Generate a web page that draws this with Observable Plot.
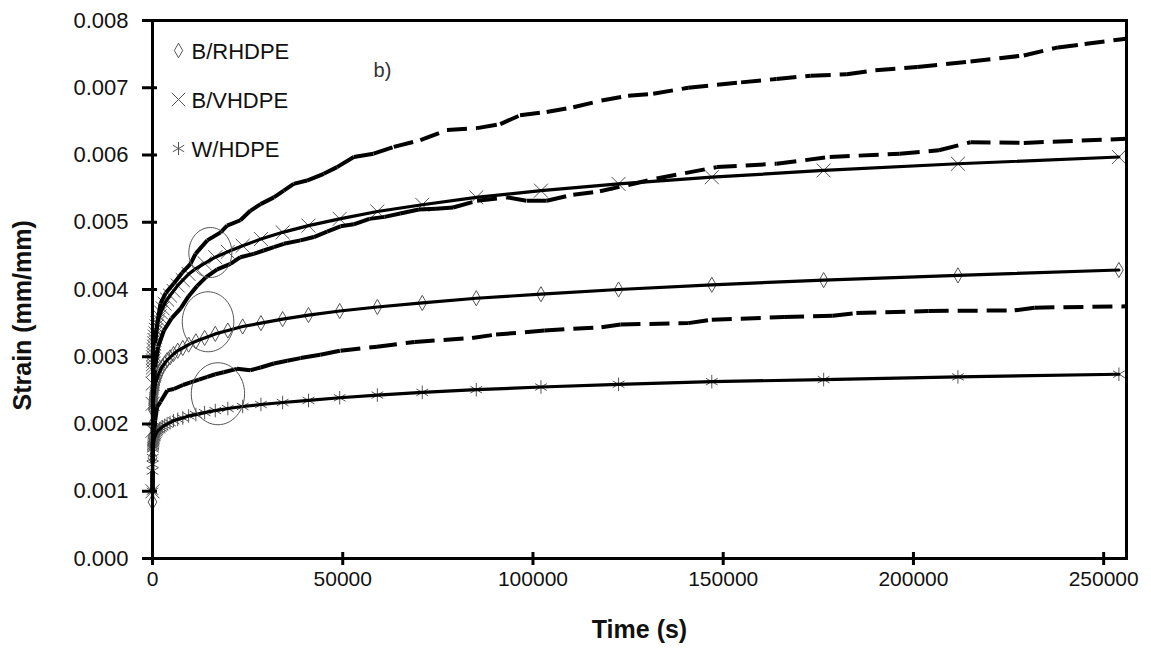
<!DOCTYPE html>
<html><head><meta charset="utf-8">
<script src="https://cdn.jsdelivr.net/npm/d3@7"></script>
<script src="https://cdn.jsdelivr.net/npm/@observablehq/plot@0.6"></script>
<style>
html,body{margin:0;padding:0;background:#fff;}
#chart svg{display:block;}
</style></head><body><div id="chart"></div>
<script>
// ---- Data ----
const xTicks = [0, 50000, 100000, 150000, 200000, 250000];
const yTicks = [0, 0.001, 0.002, 0.003, 0.004, 0.005, 0.006, 0.007, 0.008];
const legendNames = ["B/RHDPE", "B/VHDPE", "W/HDPE"];

// fitted curves (solid lines with markers)
const fitTime = [0, 10, 25, 50, 100, 120, 144, 173, 208, 249, 299, 359, 431, 517, 620, 744, 893, 1070, 1290, 1540, 1850, 2220, 2670, 3200, 3840, 4600, 5530, 6630, 7960, 9500, 11400, 13700, 16500, 19800, 23700, 28500, 34200, 41000, 49200, 59100, 70900, 85100, 102100, 122500, 147000, 176400, 211700, 254000];
const fitBR = [0.00084, 0.00150, 0.00180, 0.00200, 0.00221, 0.00224, 0.00228, 0.00231, 0.00234, 0.00237, 0.00240, 0.00244, 0.00247, 0.00251, 0.00254, 0.00258, 0.00262, 0.00265, 0.00269, 0.00273, 0.00277, 0.00282, 0.00286, 0.00290, 0.00295, 0.00299, 0.00304, 0.00309, 0.00313, 0.00318, 0.00323, 0.00328, 0.00334, 0.00339, 0.00345, 0.00350, 0.00356, 0.00362, 0.00368, 0.00374, 0.00380, 0.00387, 0.00393, 0.00400, 0.00407, 0.00414, 0.00421, 0.00429];
const fitBV = [0.00100, 0.00190, 0.00230, 0.00260, 0.00279, 0.00284, 0.00289, 0.00294, 0.00299, 0.00304, 0.00310, 0.00315, 0.00320, 0.00325, 0.00330, 0.00335, 0.00340, 0.00345, 0.00350, 0.00355, 0.00360, 0.00366, 0.00372, 0.00379, 0.00385, 0.00391, 0.00398, 0.00406, 0.00414, 0.00423, 0.00431, 0.00439, 0.00448, 0.00456, 0.00465, 0.00475, 0.00485, 0.00495, 0.00505, 0.00516, 0.00526, 0.00537, 0.00547, 0.00557, 0.00567, 0.00577, 0.00587, 0.00597];
const fitW = [0.00100, 0.00130, 0.00140, 0.00150, 0.00163, 0.00165, 0.00167, 0.00168, 0.00170, 0.00172, 0.00174, 0.00176, 0.00178, 0.00180, 0.00181, 0.00183, 0.00185, 0.00187, 0.00189, 0.00191, 0.00192, 0.00194, 0.00196, 0.00198, 0.00200, 0.00202, 0.00205, 0.00207, 0.00209, 0.00212, 0.00214, 0.00217, 0.00220, 0.00223, 0.00226, 0.00229, 0.00232, 0.00235, 0.00239, 0.00243, 0.00247, 0.00251, 0.00255, 0.00259, 0.00263, 0.00266, 0.00270, 0.00274];

// experimental curves (dashed)
const expTopTime = [0, 100, 300, 700, 1300, 2100, 3500, 5600, 7800, 10000, 11300, 14400, 17900, 19600, 23100, 25700, 28400, 31900, 34500, 37100, 40600, 45000, 48500, 52900, 58100, 63400, 70400, 77400, 85300, 91400, 96600, 103600, 110600, 118000, 125000, 131600, 140800, 154700, 164000, 173000, 182500, 190000, 201000, 215000, 229000, 238000, 245000, 256000];
const expTop = [0.00100, 0.00220, 0.00280, 0.00320, 0.00350, 0.00379, 0.00395, 0.00409, 0.00425, 0.00438, 0.00453, 0.00473, 0.00485, 0.00495, 0.00503, 0.00517, 0.00527, 0.00537, 0.00547, 0.00557, 0.00562, 0.00572, 0.00582, 0.00597, 0.00602, 0.00612, 0.00622, 0.00637, 0.00640, 0.00646, 0.00659, 0.00664, 0.00671, 0.00681, 0.00688, 0.00691, 0.00700, 0.00708, 0.00713, 0.00718, 0.00720, 0.00726, 0.00731, 0.00739, 0.00748, 0.00760, 0.00765, 0.00773];
const expMidTime = [0, 100, 300, 700, 1500, 3000, 5000, 7400, 9500, 11700, 14000, 17000, 20500, 23100, 26600, 29200, 31900, 34500, 38900, 42400, 45900, 49400, 52900, 57000, 61000, 65100, 70000, 74500, 79000, 85300, 93100, 98400, 103600, 110600, 117600, 132500, 148300, 164000, 178000, 196400, 206700, 215000, 229000, 256000];
const expMid = [0.00100, 0.00200, 0.00250, 0.00285, 0.00315, 0.00339, 0.00357, 0.00372, 0.00390, 0.00405, 0.00418, 0.00430, 0.00438, 0.00448, 0.00453, 0.00458, 0.00463, 0.00468, 0.00473, 0.00478, 0.00486, 0.00494, 0.00497, 0.00505, 0.00508, 0.00513, 0.00519, 0.00520, 0.00522, 0.00532, 0.00537, 0.00532, 0.00532, 0.00541, 0.00546, 0.00565, 0.00582, 0.00587, 0.00597, 0.00602, 0.00607, 0.00619, 0.00618, 0.00624];
const expLowTime = [0, 100, 300, 700, 1200, 2100, 3900, 5600, 8000, 10000, 12200, 14400, 16500, 18700, 22200, 25700, 28400, 31900, 35400, 38900, 44100, 49400, 59000, 68900, 84000, 90300, 103000, 118000, 123000, 140800, 147000, 166000, 178800, 185000, 204000, 226600, 231800, 256000];
const expLow = [0.00100, 0.00160, 0.00185, 0.00205, 0.00225, 0.00233, 0.00250, 0.00252, 0.00258, 0.00262, 0.00266, 0.00270, 0.00274, 0.00277, 0.00282, 0.00280, 0.00284, 0.00290, 0.00294, 0.00298, 0.00303, 0.00309, 0.00315, 0.00322, 0.00328, 0.00333, 0.00339, 0.00344, 0.00348, 0.00350, 0.00355, 0.00359, 0.00361, 0.00365, 0.00368, 0.00369, 0.00373, 0.00375];

// highlighted regions (ellipses)
const circleTime = [15200, 14600, 17200];
const circleStrain = [0.00455, 0.00352, 0.00245];

// ---- layout ----
const W = 1151, H = 652, ML = 152, MR = 25, MT = 20, MB = 94;
const xMax = 256000, yMax = 0.008;
const perPxX = xMax / (W - ML - MR);   // seconds per pixel
const perPxY = yMax / (H - MT - MB);   // strain per pixel

// ---- build tables ----
const pts = (ts, ss) => ts.map((t, i) => ({t, s: ss[i]}));
const segs = (ts, ss) => ts.slice(1).map((t, i) => ({x1: ts[i], y1: ss[i], x2: t, y2: ss[i + 1]}));
const circles = pts(circleTime, circleStrain);

const ellipse = {draw(ctx, size) {
  const r = Math.sqrt(size / Math.PI), rx = r * 0.86, ry = r, k = 0.5523;
  ctx.moveTo(rx, 0);
  ctx.bezierCurveTo(rx, ry * k, rx * k, ry, 0, ry);
  ctx.bezierCurveTo(-rx * k, ry, -rx, ry * k, -rx, 0);
  ctx.bezierCurveTo(-rx, -ry * k, -rx * k, -ry, 0, -ry);
  ctx.bezierCurveTo(rx * k, -ry, rx, -ry * k, rx, 0);
  ctx.closePath();
}};

const gray = "#555";
const dash = {stroke: "#000", strokeWidth: 4, strokeDasharray: "20,9", strokeLinecap: "butt"};
const fitLine = {x: "t", y: "s", stroke: "#000", strokeWidth: 3.2};
const markStyle = {x: "t", y: "s", stroke: gray, strokeWidth: 1, fill: "none"};
const fontMain = "Liberation Sans, Arial, sans-serif";
const legendSymbols = ["diamond", "times", "asterisk"];

const legendMarks = legendNames.flatMap((name, i) => [
  Plot.dot([0], {x: () => 0, y: () => yMax, dx: 26, dy: 30 + 49 * i, symbol: legendSymbols[i], r: i === 0 ? 4.4 : 6.2, stroke: gray, strokeWidth: 1, fill: "none"}),
  Plot.text([name], {x: () => 0, y: () => yMax, dx: 39, dy: 31 + 49 * i, text: d => d, textAnchor: "start", fontSize: 22, fill: "#111"})
]);

const chart = Plot.plot({
  width: W, height: H,
  marginLeft: ML, marginRight: MR, marginTop: MT, marginBottom: MB,
  style: {fontFamily: fontMain, background: "#fff", color: "#000", overflow: "visible"},
  x: {domain: [0, xMax], label: null},
  y: {domain: [0, yMax], label: null},
  r: {type: "identity"},
  marks: [
    // markers under lines
    Plot.dot(pts(fitTime, fitBR), {...markStyle, symbol: "diamond", r: 4.6}),
    Plot.dot(pts(fitTime, fitBV), {...markStyle, symbol: "times", r: 6.4}),
    Plot.dot(pts(fitTime, fitW), {...markStyle, symbol: "asterisk", r: 6.4}),
    // experimental dashed curves (dash pattern restarts per segment)
    Plot.link(segs(expTopTime, expTop), {x1: "x1", y1: "y1", x2: "x2", y2: "y2", ...dash}),
    Plot.link(segs(expMidTime, expMid), {x1: "x1", y1: "y1", x2: "x2", y2: "y2", ...dash}),
    Plot.link(segs(expLowTime, expLow), {x1: "x1", y1: "y1", x2: "x2", y2: "y2", ...dash}),
    // fitted curves
    Plot.line(pts(fitTime, fitBR), fitLine),
    Plot.line(pts(fitTime, fitBV), fitLine),
    Plot.line(pts(fitTime, fitW), fitLine),
    // ellipses
    Plot.dot(circles, {x: "t", y: "s", symbol: ellipse, r: (d, i) => [25, 30, 31][i], stroke: gray, strokeWidth: 1, fill: "none"}),
    // frame and axes (tick marks cross the axis lines)
    Plot.frame({stroke: "#000", strokeWidth: 3}),
    Plot.ruleY(yTicks, {y: d => d, x1: -10 * perPxX, x2: 5 * perPxX, stroke: "#000", strokeWidth: 3}),
    Plot.ruleX(xTicks, {x: d => d, y1: -7 * perPxY, y2: 6 * perPxY, stroke: "#000", strokeWidth: 3}),
    Plot.axisY(yTicks, {tickSize: 0, tickPadding: 24, tickFormat: d3.format(".3f"), fontSize: 22, fill: "#111", label: null}),
    Plot.axisX(xTicks, {tickSize: 0, tickPadding: 13, tickFormat: d => String(d), fontSize: 21, fill: "#111", label: null}),
    Plot.text(["Time (s)"], {frameAnchor: "bottom", dy: 79, text: d => d, fontWeight: "bold", fontSize: 25, fill: "#111", textAnchor: "middle"}),
    Plot.text(["Strain (mm/mm)"], {x: () => 0, y: () => yMax / 2, dx: -130, dy: 121, rotate: -90, text: d => d, textAnchor: "start", fontWeight: "bold", fontSize: 25, fill: "#111"}),
    Plot.text(["b)"], {x: () => 0, y: () => yMax, dx: 230, dy: 50, text: d => d, fontSize: 20, fill: "#333", textAnchor: "middle"}),
    ...legendMarks
  ]
});
document.getElementById("chart").append(chart);
</script>
</body></html>
